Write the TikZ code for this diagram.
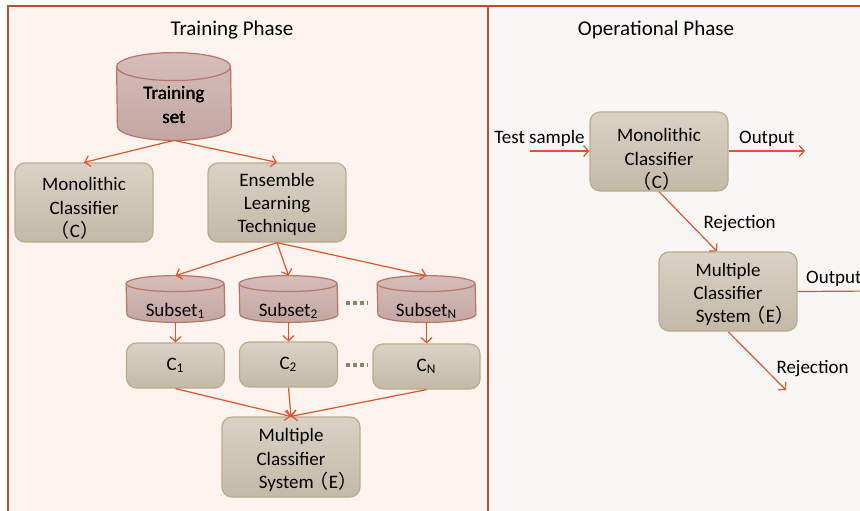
\documentclass[tikz,border=0pt]{standalone}
\usepackage{fontspec}
\setmainfont{Carlito}
\newfontfamily\cjk{Noto Sans CJK SC}
\usetikzlibrary{arrows.meta}

\definecolor{panelline}{HTML}{B84C2C}
\definecolor{trainbg}{HTML}{FDF3EF}
\definecolor{opbg}{HTML}{F9F7F5}
\definecolor{boxtop}{HTML}{DAD2C5}
\definecolor{boxbot}{HTML}{C3B9A7}
\definecolor{boxline}{HTML}{BBAB8C}
\definecolor{dbtop}{HTML}{D6BDBA}
\definecolor{dbbot}{HTML}{C4A6A2}
\definecolor{dbline}{HTML}{B87566}
\definecolor{linkred}{HTML}{E0542A}
\definecolor{dotgray}{HTML}{8C8468}

\newcommand{\fw}[1]{\kern-2pt{\cjk（}#1{\cjk）}}
\newcommand{\lift}[1]{\rule{0pt}{#1}}
% cylinder drawn round a node: node, x radius, y radius (px)
\newcommand{\cyl}[3]{%
  \path[dbshape] (#1.north west) ++(0,#3) arc[start angle=180,end angle=360,x radius=#2,y radius=#3]
    -- ([yshift=#3*0.5pt]#1.south east) arc[start angle=0,end angle=180,x radius=#2,y radius=#3] -- cycle;
  \draw[draw=dbline,line width=0.6pt] (#1.north west) ++(0,#3) arc[start angle=180,end angle=0,x radius=#2,y radius=#3];}

\tikzset{
  txt/.style={font=\fontsize{9.5}{11.7}\selectfont},
  title/.style={font=\fontsize{10.5}{12}\selectfont},
  box/.style={txt,draw=boxline,line width=0.6pt,rounded corners=5pt,
    top color=boxtop,bottom color=boxbot,align=center,inner sep=0pt},
  db/.style={inner sep=0pt},
  dbshape/.style={draw=dbline,line width=0.6pt,top color=dbtop,bottom color=dbbot},
  link/.style={draw=linkred,line width=0.6pt,-{Straight Barb[length=2.5pt,width=5.5pt]}},
  more/.style={draw=dotgray,line width=2pt,dash pattern=on 2pt off 1.5pt}
}

\begin{document}
\begin{tikzpicture}[x=0.5pt,y=-0.5pt]
\useasboundingbox (0,0) rectangle (860,510);
\clip (0,0) rectangle (860,510);

% panels
\draw[panelline,line width=1pt,fill=trainbg] (8,6) rectangle (488,530);
\draw[panelline,line width=1pt,fill=opbg] (488,6) rectangle (870,530);
\node[title] at (232,30) {Training Phase};
\node[title] at (656,30) {Operational Phase};

% training phase
\node[db,minimum width=57pt,minimum height=43.5pt] (ts) at (174,96.5) {};
\node[db,minimum width=49pt,minimum height=23pt] (sub1) at (175.5,299) {};
\node[db,minimum width=49pt,minimum height=23pt] (sub2) at (288.5,299) {};
\node[db,minimum width=49pt,minimum height=23pt] (subN) at (426.5,299) {};
\cyl{ts}{57}{14}
\foreach \s in {sub1,sub2,subN}
  \cyl{\s}{49}{8}
\node[txt,align=center] (tstext) at ([yshift=-4.25pt]ts.center) {Training\\set};
\node[txt] (sub1text) at ([yshift=-6pt]sub1.center) {Subset\textsubscript{1}};
\node[txt] (sub2text) at ([yshift=-6pt]sub2.center) {Subset\textsubscript{2}};
\node[txt] (subNtext) at ([yshift=-6pt]subN.center) {Subset\textsubscript{N}};

\node[box,minimum width=69pt,minimum height=39.5pt] (mono) at (84,202.5) {\lift{12.6pt}Monolithic\\Classifier\\\fw{C}\hspace*{7pt}};
\node[box,minimum width=69pt,minimum height=39.5pt] (ens) at (277,202.5) {\lift{8.6pt}Ensemble\\Learning\\Technique};

\node[box,minimum width=49pt,minimum height=22.5pt] (c1) at (175.5,365.5) {C\textsubscript{1}};
\node[box,minimum width=49pt,minimum height=22.5pt] (c2) at (288.5,364.5) {C\textsubscript{2}};
\node[box,minimum width=53.5pt,minimum height=22.5pt] (cN) at (426.5,366.5) {C\textsubscript{N}};

\node[box,minimum width=69pt,minimum height=40pt] (mcs) at (291,457) {\lift{9.6pt}Multiple\\Classifier\\\hspace*{17pt}System\fw{E}};

\draw[link] (ts.south) -- (mono.north);
\draw[link] (ts.south) -- (ens.north);
\foreach \s in {sub1,sub2,subN}
  \draw[link] (ens.south) -- (\s.north);
\draw[link] (sub1.south) -- (c1.north);
\draw[link] (sub2.south) -- (c2.north);
\draw[link] (subN.south) -- (cN.north);
\foreach \c in {c1,c2,cN}
  \draw[link] (\c.south) -- (mcs.north);

\draw[more,shorten <=4pt,shorten >=4.5pt] ([yshift=-2pt]sub2.east) -- ([yshift=-2pt]subN.west);
\draw[more,shorten <=4pt,shorten >=2.5pt] (c2.east) -- (c2.east -| cN.west);

% operational phase
\node[box,minimum width=69pt,minimum height=39.5pt] (mono2) at (659,151.5) {\lift{14.6pt}Monolithic\\Classifier\\\fw{C}};
\node[box,minimum width=69pt,minimum height=39.5pt] (mcs2) at (728,291.5) {\lift{9.6pt}Multiple\\Classifier\\\hspace*{17pt}System\fw{E}};

\coordinate (in) at (530,151);
\coordinate (out1) at (805,151);
\coordinate (out2) at (875,291);
\coordinate (rej2) at (786,390);

\node[txt] (testlbl) at (539.5,138) {Test sample};
\draw[link] (in) -- (in -| mono2.west);
\draw[link] (mono2.east |- out1) -- node[txt,above,inner sep=2pt] {Output} (out1);
\draw[link] (mono2.south) -- node[txt,right,inner sep=0pt,xshift=7.5pt,yshift=-1pt] {Rejection} ([xshift=-5.5pt]mcs2.north);
\draw[link] (mcs2.east) -- node[txt,pos=0,above right,inner sep=2pt,xshift=2pt] {Output} (out2);
\draw[link] (mcs2.south) -- node[txt,right,pos=0.55,inner sep=0pt,xshift=8pt,yshift=-2.5pt] {Rejection} (rej2);
\end{tikzpicture}
\end{document}
